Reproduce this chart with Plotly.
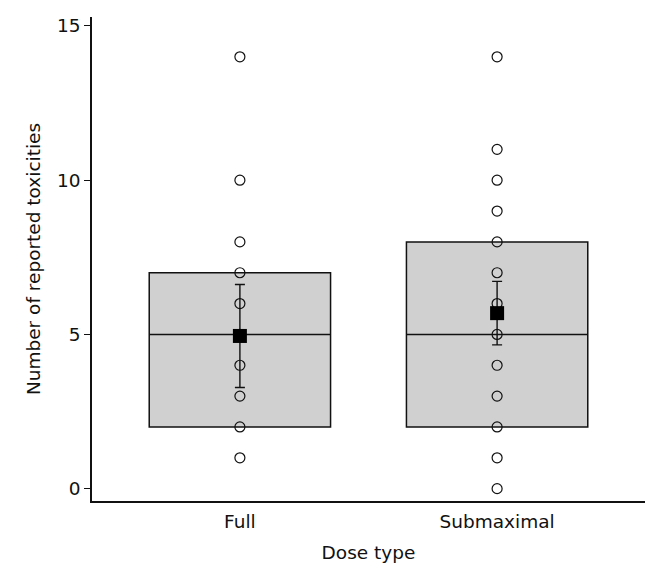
import plotly.graph_objects as go

categories = ["Full", "Submaximal"]
q1 = [2, 2]
median = [5, 5]
q3 = [7, 8]
means = [4.95, 5.69]
sem = [1.67, 1.03]
points_full = [14, 10, 8, 7, 6, 5, 4, 3, 2, 1]
points_sub = [14, 11, 10, 9, 8, 7, 6, 5, 4, 3, 2, 1, 0]

xpos = [1, 2]
font = "DejaVu Sans, Liberation Sans, Arial, sans-serif"
ink = "#111111"

fig = go.Figure()
for i, cat in enumerate(categories):
    fig.add_trace(go.Box(
        x=[xpos[i]], q1=[q1[i]], median=[median[i]], q3=[q3[i]],
        lowerfence=[q1[i]], upperfence=[q3[i]],
        width=0.705, fillcolor="#d0d0d0",
        line=dict(color=ink, width=1.5),
        boxpoints=False, showlegend=False, hoverinfo="skip",
    ))

for i, pts in enumerate([points_full, points_sub]):
    fig.add_trace(go.Scatter(
        x=[xpos[i]] * len(pts), y=pts, mode="markers",
        marker=dict(symbol="circle-open", size=10, color=ink,
                    line=dict(width=1.2, color=ink)),
        showlegend=False, hoverinfo="skip",
    ))

fig.add_trace(go.Scatter(
    x=xpos, y=means, mode="markers",
    marker=dict(symbol="square", size=14, color="#000000"),
    error_y=dict(type="data", array=sem, visible=True, color=ink,
                 thickness=1.4, width=5),
    showlegend=False, hoverinfo="skip",
))

# page has an 8px body margin, so the figure is sized/offset to compensate
fig.update_layout(
    width=645, height=559,
    margin=dict(l=84, r=8, t=7, b=66),
    paper_bgcolor="white", plot_bgcolor="white",
    font=dict(family=font, size=18.5, color=ink),
    xaxis=dict(
        range=[0.425, 2.575], tickvals=xpos, ticktext=categories,
        tickfont=dict(size=18.5), ticklabelstandoff=3,
        showline=True, linecolor=ink, linewidth=1.5,
        ticks="", showgrid=False, zeroline=False,
        title=dict(text="Dose type", standoff=15, font=dict(size=18.5)),
    ),
    yaxis=dict(
        range=[-0.4, 15.29], tickvals=[0, 5, 10, 15],
        tickfont=dict(size=18.5),
        showline=True, linecolor=ink, linewidth=1.5,
        ticks="outside", ticklen=6, tickwidth=1.2, tickcolor=ink,
        showgrid=False, zeroline=False,
        title=dict(text="Number of reported toxicities", standoff=12,
                   font=dict(size=18.5)),
    ),
)

fig.write_html("out.html")
